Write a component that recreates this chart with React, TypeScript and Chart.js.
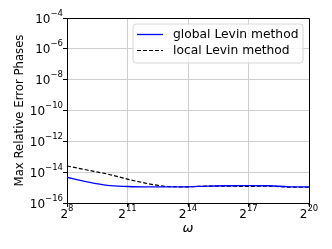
import React, { useEffect, useRef } from "react";
import { Chart, registerables } from "chart.js";

Chart.register(...registerables);

// x values are log2(omega)
const exponents = [8, 9, 10, 11, 12, 13, 14, 15, 16, 17, 18, 19, 20];
// log10 of max relative error
const globalLevinLog = [-14.33, -14.63, -14.86, -14.93, -14.96, -14.96, -14.95, -14.9, -14.88, -14.87, -14.88, -14.95, -14.96];
const localLevinLog = [-13.6, -13.86, -14.12, -14.45, -14.74, -14.93, -14.95, -14.9, -14.91, -14.92, -14.9, -14.97, -14.98];
const xTickExponents = [8, 11, 14, 17, 20];
const yTickExponents = [-16, -14, -12, -10, -8, -6, -4];
const legendLabels = ["global Levin method", "local Levin method"];

const FONT = "'DejaVu Sans', sans-serif";
const BASE_SIZE = 12;
const SUP_SIZE = 8.5;
const DASH = [4, 2];

const expText = (n: number) => (n < 0 ? "\u2212" + String(-n) : String(n));

const framePlugin = {
  id: "frame",
  afterDatasetsDraw(chart: any) {
    const { ctx, chartArea: a } = chart;
    ctx.save();
    ctx.strokeStyle = "#000";
    ctx.lineWidth = 1;
    ctx.beginPath();
    ctx.moveTo(Math.round(a.left) + 0.5, Math.round(a.top) + 0.5);
    ctx.lineTo(Math.round(a.right) + 0.5, Math.round(a.top) + 0.5);
    ctx.lineTo(Math.round(a.right) + 0.5, Math.round(a.bottom) + 0.5);
    ctx.stroke();
    ctx.restore();
  },
};

const tickLabelPlugin = {
  id: "powerTickLabels",
  afterDraw(chart: any) {
    const { ctx, scales } = chart;
    const xs = scales.x, ys = scales.y;
    ctx.save();
    ctx.fillStyle = "#000";
    ctx.textBaseline = "alphabetic";
    ctx.textAlign = "left";
    yTickExponents.forEach((e) => {
      const py = ys.getPixelForValue(Math.pow(10, e));
      const sup = expText(e);
      ctx.font = `${SUP_SIZE}px ${FONT}`;
      const sw = ctx.measureText(sup).width;
      ctx.font = `${BASE_SIZE}px ${FONT}`;
      const bw = ctx.measureText("10").width;
      const right = ys.right - 4;
      const x0 = right - sw - bw;
      ctx.fillText("10", x0, py + 4.5);
      ctx.font = `${SUP_SIZE}px ${FONT}`;
      ctx.fillText(sup, x0 + bw, py - 2.5);
    });
    xTickExponents.forEach((e) => {
      const px = xs.getPixelForValue(e);
      const sup = expText(e);
      ctx.font = `${SUP_SIZE}px ${FONT}`;
      const sw = ctx.measureText(sup).width;
      ctx.font = `${BASE_SIZE}px ${FONT}`;
      const bw = ctx.measureText("2").width;
      const x0 = px - (sw + bw) / 2;
      const by = xs.top + 15;
      ctx.fillText("2", x0, by);
      ctx.font = `${SUP_SIZE}px ${FONT}`;
      ctx.fillText(sup, x0 + bw, by - 7);
    });
    ctx.restore();
  },
};

const legendPlugin = {
  id: "innerLegend",
  afterDraw(chart: any) {
    const { ctx } = chart;
    const x0 = 133, y0 = 24, w = 170, h = 39, r = 3;
    ctx.save();
    ctx.beginPath();
    ctx.moveTo(x0 + r, y0);
    ctx.arcTo(x0 + w, y0, x0 + w, y0 + h, r);
    ctx.arcTo(x0 + w, y0 + h, x0, y0 + h, r);
    ctx.arcTo(x0, y0 + h, x0, y0, r);
    ctx.arcTo(x0, y0, x0 + w, y0, r);
    ctx.closePath();
    ctx.fillStyle = "rgba(255,255,255,0.8)";
    ctx.fill();
    ctx.strokeStyle = "#d6d6d6";
    ctx.lineWidth = 1;
    ctx.stroke();
    const rows = [
      { y: 34.5, color: "#0000ff", dash: [] as number[], width: 1.3 },
      { y: 50.5, color: "#000000", dash: DASH, width: 1.2 },
    ];
    rows.forEach((row, i) => {
      ctx.beginPath();
      ctx.setLineDash(row.dash);
      ctx.strokeStyle = row.color;
      ctx.lineWidth = row.width;
      ctx.moveTo(137, row.y);
      ctx.lineTo(163, row.y);
      ctx.stroke();
      ctx.setLineDash([]);
      ctx.fillStyle = "#000";
      ctx.font = `12.3px ${FONT}`;
      ctx.textBaseline = "middle";
      ctx.textAlign = "left";
      ctx.fillText(legendLabels[i], 173, row.y);
    });
    ctx.restore();
  },
};

export default function App() {
  const ref = useRef<HTMLCanvasElement>(null);
  useEffect(() => {
    document.body.style.margin = "0";
    const toPts = (vals: number[]) => exponents.map((e, i) => ({ x: e, y: Math.pow(10, vals[i]) }));
    const chart = new Chart(ref.current!, {
      type: "line",
      data: {
        datasets: [
          {
            label: legendLabels[0],
            data: toPts(globalLevinLog),
            borderColor: "#0000ff",
            borderWidth: 1.3,
            pointRadius: 0,
            cubicInterpolationMode: "monotone",
            fill: false,
          },
          {
            label: legendLabels[1],
            data: toPts(localLevinLog),
            borderColor: "#000000",
            borderWidth: 1.2,
            borderDash: DASH,
            pointRadius: 0,
            cubicInterpolationMode: "monotone",
            fill: false,
          },
        ],
      },
      options: {
        animation: false,
        responsive: false,
        devicePixelRatio: 1,
        layout: { padding: { top: 18, right: 23, left: 0, bottom: 0 } },
        plugins: { legend: { display: false }, tooltip: { enabled: false } },
        scales: {
          x: {
            type: "linear",
            min: 8,
            max: 20,
            afterBuildTicks: (s: any) => {
              s.ticks = xTickExponents.map((v) => ({ value: v }));
            },
            afterFit: (s: any) => {
              s.height = 46;
            },
            ticks: { display: false },
            grid: { color: "#cfcfcf", tickColor: "#000", tickLength: 4, lineWidth: 1 },
            border: { color: "#000", width: 1 },
            title: {
              display: true,
              text: "\u03C9",
              color: "#000",
              font: { family: FONT, size: 13, style: "italic" },
              padding: { top: 0, bottom: 13 },
            },
          },
          y: {
            type: "logarithmic",
            min: 1e-16,
            max: 1e-4,
            afterBuildTicks: (s: any) => {
              s.ticks = yTickExponents.map((e) => ({ value: Math.pow(10, e) }));
            },
            afterFit: (s: any) => {
              s.width = 67;
            },
            ticks: { display: false },
            grid: { color: "#cfcfcf", tickColor: "#000", tickLength: 4, lineWidth: 1 },
            border: { color: "#000", width: 1 },
            title: {
              display: true,
              text: "Max Relative Error Phases",
              color: "#000",
              font: { family: FONT, size: 11.7 },
              padding: { top: 13, bottom: 0 },
            },
          },
        },
      },
      plugins: [framePlugin, tickLabelPlugin, legendPlugin],
    });
    return () => chart.destroy();
  }, []);
  return (
    <div style={{ width: 332, height: 249 }}>
      <canvas ref={ref} width={332} height={249} />
    </div>
  );
}
